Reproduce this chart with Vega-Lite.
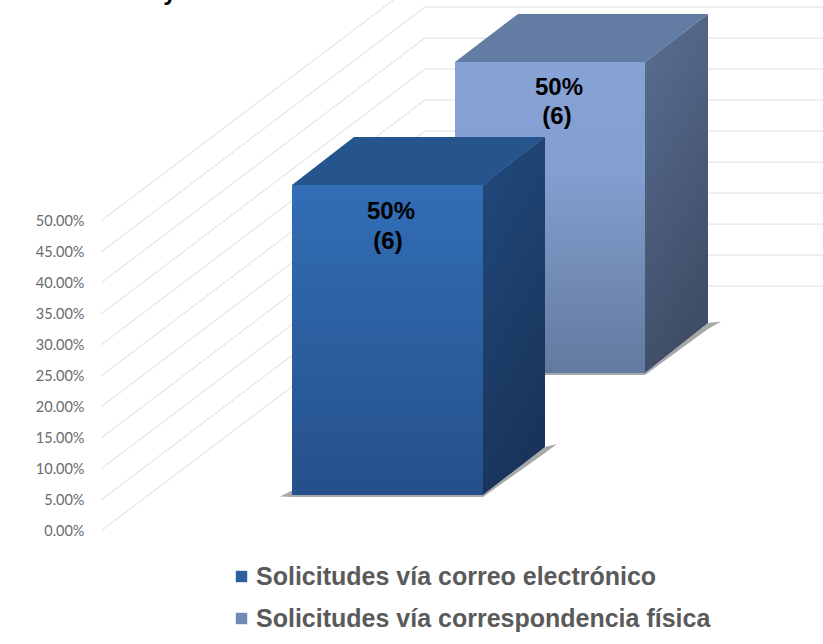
{"$schema":"https://vega.github.io/schema/vega-lite/v6.json","width":735,"height":644,"autosize":"none","padding":{"left":88,"top":0,"right":0,"bottom":0},"background":"white","config":{"view":{"stroke":null}},
"datasets":{"grid":[
{"x":101,"x2":425,"y":0,"y2":39.5},{"x":101,"x2":425,"y":5,"y2":44.5},{"x":101,"x2":425,"y":10,"y2":49.5},{"x":101,"x2":425,"y":15,"y2":54.5},{"x":101,"x2":425,"y":20,"y2":59.5},{"x":101,"x2":425,"y":25,"y2":64.5},{"x":101,"x2":425,"y":30,"y2":69.5},{"x":101,"x2":425,"y":35,"y2":74.5},{"x":101,"x2":425,"y":40,"y2":79.5},{"x":101,"x2":425,"y":45,"y2":84.5},{"x":101,"x2":425,"y":50,"y2":89.5},
{"x":425,"x2":823,"y":39.5,"y2":39.5},{"x":425,"x2":823,"y":44.5,"y2":44.5},{"x":425,"x2":823,"y":49.5,"y2":49.5},{"x":425,"x2":823,"y":54.5,"y2":54.5},{"x":425,"x2":823,"y":59.5,"y2":59.5},{"x":425,"x2":823,"y":64.5,"y2":64.5},{"x":425,"x2":823,"y":69.5,"y2":69.5},{"x":425,"x2":823,"y":74.5,"y2":74.5},{"x":425,"x2":823,"y":79.5,"y2":79.5},{"x":425,"x2":823,"y":84.5,"y2":84.5}],
"fronts":[
{"bar":1,"series":"Solicitudes vía correo electrónico","x":292,"x2":483,"y":55.8,"y2":5.8},
{"bar":2,"series":"Solicitudes vía correspondencia física","x":455,"x2":645,"y":75.65,"y2":25.5}],
"faces":[
{"bar":2,"face":"shadow","x":455,"y":25.48,"y2":25.16},{"bar":2,"face":"shadow","x":645,"y":25.48,"y2":25.16},{"bar":2,"face":"shadow","x":708,"y":33.55,"y2":32.58},{"bar":2,"face":"shadow","x":721,"y":33.79,"y2":33.79},
{"bar":1,"face":"shadow","x":280,"y":5.56,"y2":5.56},{"bar":1,"face":"shadow","x":293,"y":6.6,"y2":5.48},{"bar":1,"face":"shadow","x":483,"y":5.8,"y2":5.48},{"bar":1,"face":"shadow","x":545,"y":13.55,"y2":12.58},{"bar":1,"face":"shadow","x":557,"y":14.03,"y2":14.03},
{"bar":2,"face":"top","x":455,"y":75.65,"y2":75.65},{"bar":2,"face":"top","x":518,"y":83.4,"y2":75.65},{"bar":2,"face":"top","x":645,"y":83.4,"y2":75.65},{"bar":2,"face":"top","x":708,"y":83.4,"y2":83.4},
{"bar":2,"face":"side","x":645,"y":75.65,"y2":25.5},{"bar":2,"face":"side","x":708,"y":83.4,"y2":33.55},
{"bar":1,"face":"top","x":292,"y":55.8,"y2":55.8},{"bar":1,"face":"top","x":354,"y":63.55,"y2":55.8},{"bar":1,"face":"top","x":483,"y":63.55,"y2":55.8},{"bar":1,"face":"top","x":545,"y":63.55,"y2":63.55},
{"bar":1,"face":"side","x":483,"y":55.8,"y2":5.8},{"bar":1,"face":"side","x":545,"y":63.55,"y2":13.55}],
"labels":[
{"x":391,"y":51.45,"label":"50%"},{"x":388,"y":46.65,"label":"(6)"},{"x":559,"y":71.45,"label":"50%"},{"x":557,"y":66.75,"label":"(6)"},{"x":170,"y":86.8,"label":"y"}]},
"data":{"name":"grid"},
"layer":[
{"data":{"name":"grid"},"mark":{"type":"rule","color":"#E6E6E6","strokeWidth":1.2,"clip":true},"encoding":{"x":{"field":"x","type":"quantitative","axis":null,"scale":{"domain":[88,823],"nice":false,"zero":false}},"x2":{"field":"x2"},"y":{"field":"y","type":"quantitative","scale":{"domain":[-18.226,85.645],"nice":false,"zero":false},"axis":{"title":null,"values":[0,5,10,15,20,25,30,35,40,45,50],"labelExpr":"format(datum.value,'.2f')+'%'","domain":false,"ticks":false,"grid":false,"labelPadding":4,"labelOffset":1,"labelFont":"Lato","labelFontSize":14.5,"labelColor":"#6a6a6a"}},"y2":{"field":"y2"}}},
{"data":{"name":"fronts"},"mark":{"type":"rect"},"encoding":{"x":{"field":"x","type":"quantitative"},"x2":{"field":"x2"},"y":{"field":"y","type":"quantitative"},"y2":{"field":"y2"},"color":{"field":"series","type":"nominal","scale":{"range":["#2C5F9F","#7089B5"]},"legend":{"title":null,"orient":"none","legendX":141,"legendY":564,"symbolType":"square","symbolSize":130,"symbolStrokeWidth":0,"symbolOpacity":1,"labelFont":"Liberation Sans","labelFontWeight":"bold","labelFontSize":25,"labelColor":"#5a5a5a","labelLimit":600,"labelOffset":2,"rowPadding":16}}}},
{"data":{"name":"faces"},"transform":[{"filter":"datum.bar==2&&datum.face=='shadow'"}],"mark":{"type":"area","color":"#a8a8a8"},"encoding":{"x":{"field":"x","type":"quantitative"},"y":{"field":"y","type":"quantitative"},"y2":{"field":"y2"}}},
{"data":{"name":"fronts"},"transform":[{"filter":"datum.bar==2"}],"mark":{"type":"rect","color":{"gradient":"linear","x1":0,"y1":0,"x2":0,"y2":1,"stops":[{"offset":0,"color":"#87A3D6"},{"offset":0.35,"color":"#839FD0"},{"offset":1,"color":"#637A9F"}]}},"encoding":{"x":{"field":"x","type":"quantitative"},"x2":{"field":"x2"},"y":{"field":"y","type":"quantitative"},"y2":{"field":"y2"}}},
{"data":{"name":"faces"},"transform":[{"filter":"datum.bar==2&&datum.face=='top'"}],"mark":{"type":"area","color":"#637CA3"},"encoding":{"x":{"field":"x","type":"quantitative"},"y":{"field":"y","type":"quantitative"},"y2":{"field":"y2"}}},
{"data":{"name":"faces"},"transform":[{"filter":"datum.bar==2&&datum.face=='side'"}],"mark":{"type":"area","color":{"gradient":"linear","x1":0,"y1":0,"x2":0.3,"y2":1,"stops":[{"offset":0,"color":"#5A6F93"},{"offset":1,"color":"#3F4D66"}]}},"encoding":{"x":{"field":"x","type":"quantitative"},"y":{"field":"y","type":"quantitative"},"y2":{"field":"y2"}}},
{"data":{"name":"faces"},"transform":[{"filter":"datum.bar==1&&datum.face=='shadow'"}],"mark":{"type":"area","color":"#a8a8a8"},"encoding":{"x":{"field":"x","type":"quantitative"},"y":{"field":"y","type":"quantitative"},"y2":{"field":"y2"}}},
{"data":{"name":"fronts"},"transform":[{"filter":"datum.bar==1"}],"mark":{"type":"rect","color":{"gradient":"linear","x1":0,"y1":0,"x2":0,"y2":1,"stops":[{"offset":0,"color":"#326EB6"},{"offset":1,"color":"#25508A"}]}},"encoding":{"x":{"field":"x","type":"quantitative"},"x2":{"field":"x2"},"y":{"field":"y","type":"quantitative"},"y2":{"field":"y2"}}},
{"data":{"name":"faces"},"transform":[{"filter":"datum.bar==1&&datum.face=='top'"}],"mark":{"type":"area","color":"#25558C"},"encoding":{"x":{"field":"x","type":"quantitative"},"y":{"field":"y","type":"quantitative"},"y2":{"field":"y2"}}},
{"data":{"name":"faces"},"transform":[{"filter":"datum.bar==1&&datum.face=='side'"}],"mark":{"type":"area","color":{"gradient":"linear","x1":0,"y1":0,"x2":0.3,"y2":1,"stops":[{"offset":0,"color":"#214A7D"},{"offset":1,"color":"#19345A"}]}},"encoding":{"x":{"field":"x","type":"quantitative"},"y":{"field":"y","type":"quantitative"},"y2":{"field":"y2"}}},
{"data":{"name":"labels"},"mark":{"type":"text","font":"Liberation Sans","fontWeight":"bold","fontSize":24,"color":"#000000","baseline":"middle","align":"center"},"encoding":{"x":{"field":"x","type":"quantitative"},"y":{"field":"y","type":"quantitative"},"text":{"field":"label"}}}
]}
